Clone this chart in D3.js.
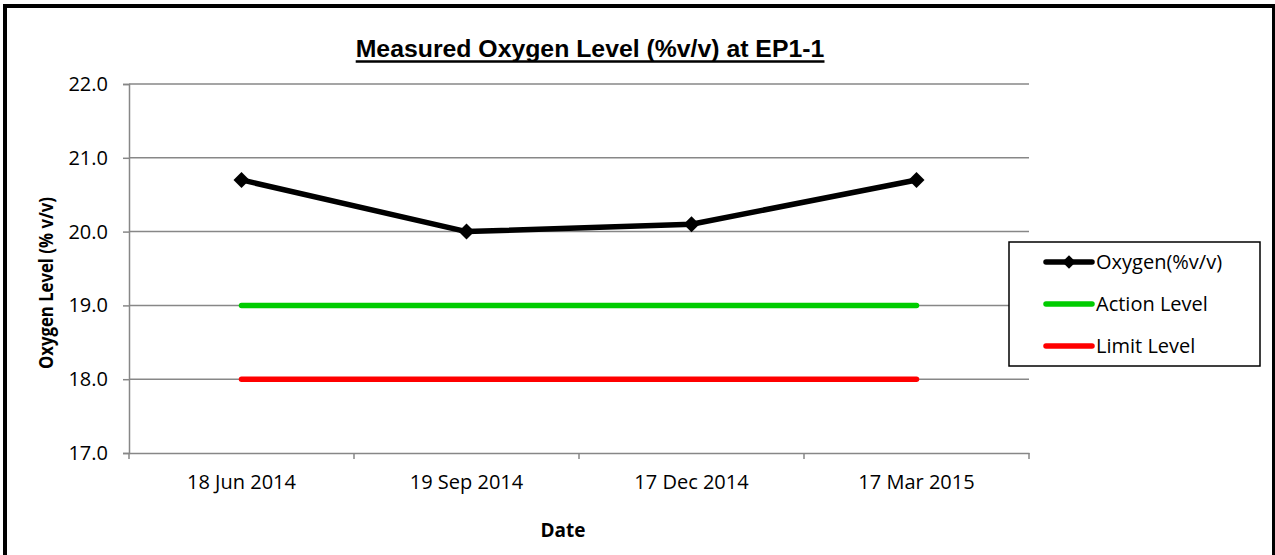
<!DOCTYPE html>
<html>
<head>
<meta charset="utf-8">
<script src="https://cdn.jsdelivr.net/npm/d3@7"></script>
<style>
  html, body { margin: 0; padding: 0; background: #fff; }
  svg { display: block; }
  text { font-family: "Open Sans", "Liberation Sans", sans-serif; }
</style>
</head>
<body>
<svg id="chart" width="1275" height="555"></svg>
<script>
const categories = ["18 Jun 2014", "19 Sep 2014", "17 Dec 2014", "17 Mar 2015"];
const oxygenValues = [20.7, 20.0, 20.1, 20.7];
const actionValues = [19.0, 19.0, 19.0, 19.0];
const limitValues = [18.0, 18.0, 18.0, 18.0];
const yTicks = [17.0, 18.0, 19.0, 20.0, 21.0, 22.0];
const seriesNames = ["Oxygen(%v/v)", "Action Level", "Limit Level"];
const seriesColors = ["#000000", "#00CC00", "#FF0000"];
const chartTitle = "Measured Oxygen Level (%v/v) at EP1-1";
const yTitle = "Oxygen Level (% v/v)";
const xTitle = "Date";

const svg = d3.select("#chart");
const gridColor = "#878787";

// outer border
svg.append("rect").attr("x", 5).attr("y", 6).attr("width", 1269).attr("height", 560)
  .attr("fill", "none").attr("stroke", "#000").attr("stroke-width", 4);

const plot = { left: 129, right: 1029, top: 84, bottom: 453 };

const x = d3.scaleBand().domain(categories).range([plot.left, plot.right]);
const y = d3.scaleLinear().domain([17, 22]).range([plot.bottom, plot.top]);

// gridlines
svg.append("g").selectAll("line").data(yTicks.filter(d => d > 17)).join("line")
  .attr("x1", plot.left).attr("x2", plot.right)
  .attr("y1", d => y(d)).attr("y2", d => y(d))
  .attr("stroke", gridColor).attr("stroke-width", 1.5);

// y axis
const yAxis = svg.append("g").attr("transform", `translate(${plot.left},0)`)
  .call(d3.axisLeft(y).tickValues(yTicks).tickFormat(d3.format(".1f")).tickSize(6).tickPadding(15));
yAxis.select(".domain").attr("stroke", gridColor).attr("stroke-width", 1.5);
yAxis.selectAll(".tick line").attr("stroke", gridColor).attr("stroke-width", 1.5);
yAxis.selectAll("text").attr("font-size", 20).attr("fill", "#000")
  .style("font-family", "'Open Sans', sans-serif");

// x axis
const xAxis = svg.append("g").attr("transform", `translate(0,${plot.bottom})`)
  .call(d3.axisBottom(x).tickSize(0).tickPadding(22));
xAxis.select(".domain").attr("stroke", gridColor).attr("stroke-width", 1.5);
xAxis.selectAll("text").attr("font-size", 20).attr("fill", "#000")
  .style("font-family", "'Open Sans', sans-serif");
// category boundary ticks
const bounds = categories.map(c => x(c)).concat([x(categories[categories.length - 1]) + x.bandwidth()]);
svg.append("g").selectAll("line").data(bounds).join("line")
  .attr("x1", d => d).attr("x2", d => d)
  .attr("y1", plot.bottom).attr("y2", plot.bottom + 6)
  .attr("stroke", gridColor).attr("stroke-width", 1.5);

const cx = d => x(d) + x.bandwidth() / 2;
const line = d3.line().x(d => cx(d[0])).y(d => y(d[1]));

const series = [
  { name: seriesNames[0], values: oxygenValues, color: seriesColors[0], marker: true },
  { name: seriesNames[1], values: actionValues, color: seriesColors[1], marker: false },
  { name: seriesNames[2], values: limitValues, color: seriesColors[2], marker: false }
];

series.slice().reverse().forEach(s => {
  const pts = categories.map((c, i) => [c, s.values[i]]);
  svg.append("path").attr("d", line(pts))
    .attr("fill", "none").attr("stroke", s.color).attr("stroke-width", 5.5)
    .attr("stroke-linecap", "round").attr("stroke-linejoin", "round");
  if (s.marker) {
    svg.append("g").selectAll("path").data(pts).join("path")
      .attr("d", d3.symbol().type(d3.symbolSquare).size(128))
      .attr("transform", d => `translate(${cx(d[0])},${y(d[1])}) rotate(45)`)
      .attr("fill", s.color);
  }
});

// title
const title = svg.append("text").attr("x", 590).attr("y", 57)
  .attr("text-anchor", "middle").attr("font-size", 24.8).attr("font-weight", "bold")
  .style("font-family", "'Liberation Sans', Arial, sans-serif")
  .text(chartTitle);
const tb = title.node().getBBox();
svg.append("line").attr("x1", tb.x).attr("x2", tb.x + tb.width)
  .attr("y1", 61.5).attr("y2", 61.5).attr("stroke", "#000").attr("stroke-width", 2.5);

// axis titles
svg.append("text").attr("transform", "translate(53,283) rotate(-90)")
  .attr("text-anchor", "middle").attr("font-size", 19).attr("font-weight", "bold")
  .attr("textLength", 172).attr("lengthAdjust", "spacingAndGlyphs")
  .text(yTitle);
svg.append("text").attr("x", 563).attr("y", 537)
  .attr("text-anchor", "middle").attr("font-size", 19).attr("font-weight", "bold")
  .text(xTitle);

// legend
const lg = svg.append("g");
lg.append("rect").attr("x", 1009).attr("y", 242).attr("width", 251).attr("height", 124)
  .attr("fill", "#fff").attr("stroke", "#000").attr("stroke-width", 1.5);
const rowY = [262, 304, 346];
series.forEach((s, i) => {
  lg.append("line").attr("x1", 1046).attr("x2", 1092).attr("y1", rowY[i]).attr("y2", rowY[i])
    .attr("stroke", s.color).attr("stroke-width", 5.5).attr("stroke-linecap", "round");
  if (s.marker) {
    lg.append("path").attr("d", d3.symbol().type(d3.symbolSquare).size(90))
      .attr("transform", `translate(1069,${rowY[i]}) rotate(45)`).attr("fill", s.color);
  }
  lg.append("text").attr("x", 1096).attr("y", rowY[i]).attr("dy", "0.35em")
    .attr("font-size", 20).attr("fill", "#000").text(s.name);
});
</script>
</body>
</html>
